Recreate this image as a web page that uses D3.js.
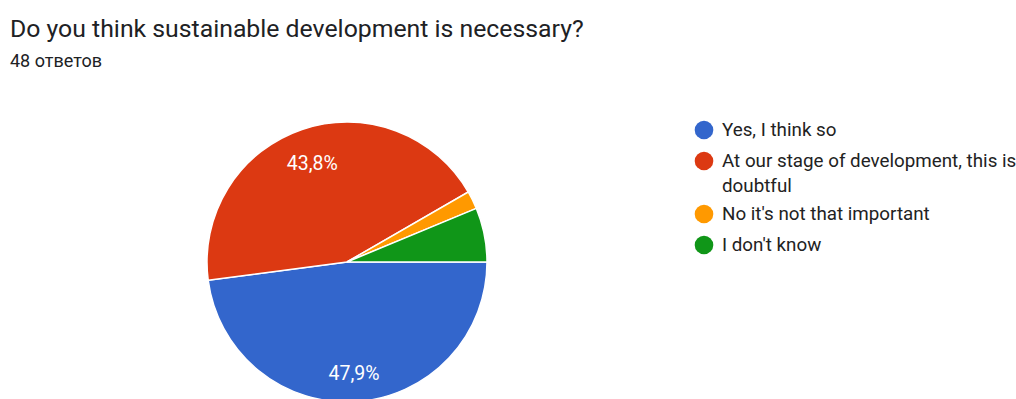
<!DOCTYPE html>
<html><head><meta charset="utf-8">
<script src="https://cdn.jsdelivr.net/npm/d3@7"></script>
<style>body{margin:0;background:#fff;} svg{display:block;font-family:Roboto, Arial, sans-serif;}</style>
</head><body>
<svg id="c" width="1016" height="399"></svg>
<script>
const categories = ["Yes, I think so", "At our stage of development, this is doubtful", "No it's not that important", "I don't know"];
const counts = [23, 21, 1, 3];
const colors = ["#3366cc", "#dc3912", "#ff9900", "#109618"];
const legendLines = [["Yes, I think so"], ["At our stage of development, this is", "doubtful"], ["No it's not that important"], ["I don't know"]];
const title = "Do you think sustainable development is necessary?";
const subtitle = "48 ответов";

const svg = d3.select("#c");
svg.append("text").attr("x", 10).attr("y", 37).attr("font-size", 24.8).attr("fill", "#202124").text(title);
svg.append("text").attr("x", 10).attr("y", 67).attr("font-size", 18).attr("fill", "#202124").text(subtitle);

const cx = 347, cy = 262, R = 140;
const total = d3.sum(counts);
const pie = d3.pie().sort(null).startAngle(Math.PI/2).endAngle(Math.PI/2 + 2*Math.PI);
const arcs = pie(counts);
const arc = d3.arc().innerRadius(0).outerRadius(R);
const g = svg.append("g").attr("transform", `translate(${cx},${cy})`);
g.selectAll("path").data(arcs).join("path")
  .attr("d", arc).attr("fill", (d,i) => colors[i])
  .attr("stroke", "#fff").attr("stroke-width", 1.5);
const labelArc = d3.arc().innerRadius(108).outerRadius(108);
g.selectAll("text.lbl").data(arcs.filter(d => d.data/total > 0.1)).join("text")
  .attr("class", "lbl")
  .attr("transform", d => { const [x,y] = labelArc.centroid(d); return `translate(${x},${y+5})`; })
  .attr("text-anchor", "middle").attr("dominant-baseline", "middle")
  .attr("font-size", 19.5).attr("fill", "#fff")
  .text(d => d3.format(".1f")(d.data/total*100).replace(".", ",") + "%");

const lg = svg.append("g");
const rowY = [130, 161, 214, 245];
legendLines.forEach((lines, i) => {
  lg.append("circle").attr("cx", 704).attr("cy", rowY[i]).attr("r", 9.3).attr("fill", colors[i]);
  lines.forEach((t, j) => {
    lg.append("text").attr("x", 722).attr("y", rowY[i] + 1.5 + j*25).attr("dominant-baseline", "middle")
      .attr("font-size", 18.8).attr("fill", "#222").text(t);
  });
});
</script>
</body></html>
